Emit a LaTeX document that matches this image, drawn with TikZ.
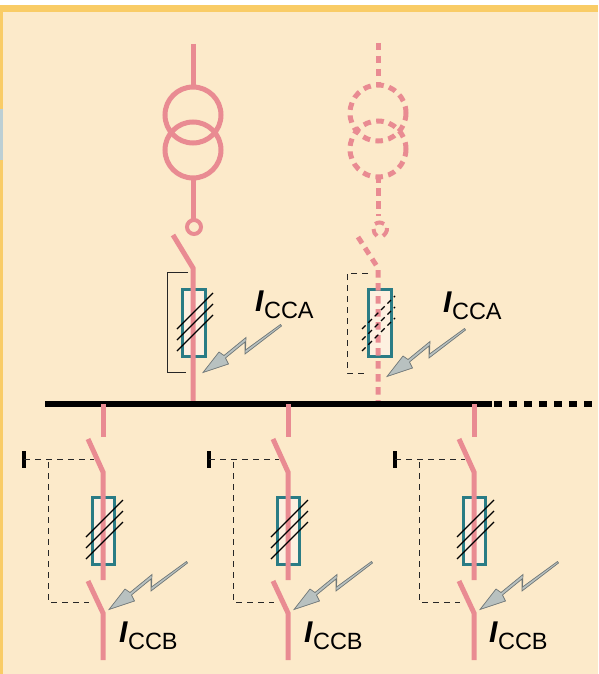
\documentclass[tikz,border=0pt]{standalone}
\usepackage{fontspec}
\setmainfont{Liberation Sans}
\definecolor{bgc}{HTML}{FCEACA}
\definecolor{bandc}{HTML}{F9CC66}
\definecolor{bluec}{HTML}{BCCFD4}
\definecolor{pinkc}{HTML}{E98B92}
\definecolor{tealc}{HTML}{2A7C85}
\definecolor{fusec}{HTML}{FDF0E0}
\definecolor{boltc}{HTML}{B8C1C0}
\definecolor{boltl}{HTML}{6F7777}
\newcommand{\currlabel}[1]{{\fontsize{30}{30}\selectfont\bfseries\itshape I}\hspace{0.5pt}\raisebox{-7.5pt}{\fontsize{23.5}{24}\selectfont #1}}
\tikzset{
  x=1pt,y=-1pt,
  pinkline/.style={draw=pinkc,line width=5pt},
  pinkdash/.style={pinkline,dash pattern=on 7.5pt off 5.5pt},
  fusebox/.style={draw=tealc,fill=fusec,line width=3.5pt},
  hatchline/.style={draw=black,line width=1.1pt},
  hatchdash/.style={hatchline,dash pattern=on 5pt off 4pt},
  ctrl/.style={draw=black!85,line width=1pt},
  ctrldash/.style={ctrl,dash pattern=on 6pt off 5pt},
  bolt/.style={draw=boltl,fill=boltc,line width=0.7pt,line join=miter},
  curr/.style={inner sep=0pt,anchor=base west,text=black},
  pics/lightning/.style={code={
    \path[bolt] (203,372.5) -- (219,352) -- (224,355.5) -- (246,337.5) -- (245.5,350)
      -- (280.5,324.5) -- (281.5,326) -- (245,354) -- (245,342) -- (225.5,358) -- (228.5,364) -- cycle;
  }},
  pics/feeder/.style={code={
    \path[pinkline] (103,404) -- (103,437);
    \path[fusebox] (92.7,497.7) rectangle (114.3,564.3);
    \path[pinkline] (88,439) -- (103,472) -- (103,580);
    \path[pinkline] (88,581) -- (103,613) -- (103,660);
    \foreach \d in {0,11,22} \path[hatchline] (86,537+\d) -- (123,500+\d);
    \path[draw=black,line width=4pt] (24,451) -- (24,468);
    \path[ctrldash] (24,459) -- (94,459);
    \path[ctrldash] (48,462) -- (48,602) -- (89,602);
    \pic at (0,0) [shift={(-94,237)}] {lightning};
  }}
}
\begin{document}
\begin{tikzpicture}
\useasboundingbox (0,0) rectangle (598,674);
\fill[white] (0,0) rectangle (598,674);
\fill[bgc] (0,5) rectangle (598,674);
\fill[bandc] (0,5) rectangle (598,12);
\fill[bandc] (0,5) rectangle (3,674);
\fill[bluec] (0,109) rectangle (3,160);

% solid incomer
\path[pinkline] (193,44) -- (193,87);
\path[pinkline] (193,115) circle[radius=28];
\path[pinkline] (193,150) circle[radius=28];
\path[pinkline] (193,178) -- (193,220);
\path[pinkline,line width=4pt] (194,227) circle[radius=7];
\path[fusebox] (182.7,289.7) rectangle (205.3,356.3);
\path[pinkline] (173,235) -- (193,268) -- (193,402);
\foreach \d in {0,11,22} \path[hatchline] (177,329+\d) -- (213,293+\d);
\path[ctrl] (188,272) -- (167,272) -- (167,372) -- (186,372);
\pic {lightning};
\node[curr] (lA) at (255,311) {\currlabel{CCA}};

% dashed incomer
\path[pinkdash] (378,43) -- (378,87);
\path[pinkdash] (378,113) circle[radius=28];
\path[pinkdash] (378,149) circle[radius=28];
\path[pinkdash] (378,175) -- (378,216);
\path[pinkline,line width=4pt] (375,224) .. controls (378,222) and (381,222) .. (384,224);
\path[pinkline,line width=4pt] (373.5,229) .. controls (373.5,232) and (375,234.5) .. (377,236);
\path[pinkline,line width=4pt] (387,228) .. controls (387.5,231) and (385,234.5) .. (383,236);
\path[fusebox] (368.7,289.7) rectangle (391.3,356.3);
\path[pinkdash] (358,237) -- (378,268) -- (378,402);
\foreach \d in {0,11,22} \path[hatchdash] (362,329+\d) -- (395,296+\d);
\path[ctrldash] (368,273) -- (347,273) -- (347,373) -- (366,373);
\pic at (0,0) [shift={(184,4)}] {lightning};
\node[curr] (lB) at (443,312) {\currlabel{CCA}};

% busbar
\draw[black,line width=6pt] (45,404) -- (492,404);
\draw[black,line width=6pt,dash pattern=on 8pt off 7pt] (494,404) -- (596,404);

% feeders
\pic at (0,0) {feeder};
\pic at (0,0) [shift={(185,0)}] {feeder};
\pic at (0,0) [shift={(371,0)}] {feeder};
\node[curr] (lC) at (119,642) {\currlabel{CCB}};
\node[curr] (lD) at (304,642) {\currlabel{CCB}};
\node[curr] (lE) at (489,642) {\currlabel{CCB}};
\end{tikzpicture}
\end{document}
